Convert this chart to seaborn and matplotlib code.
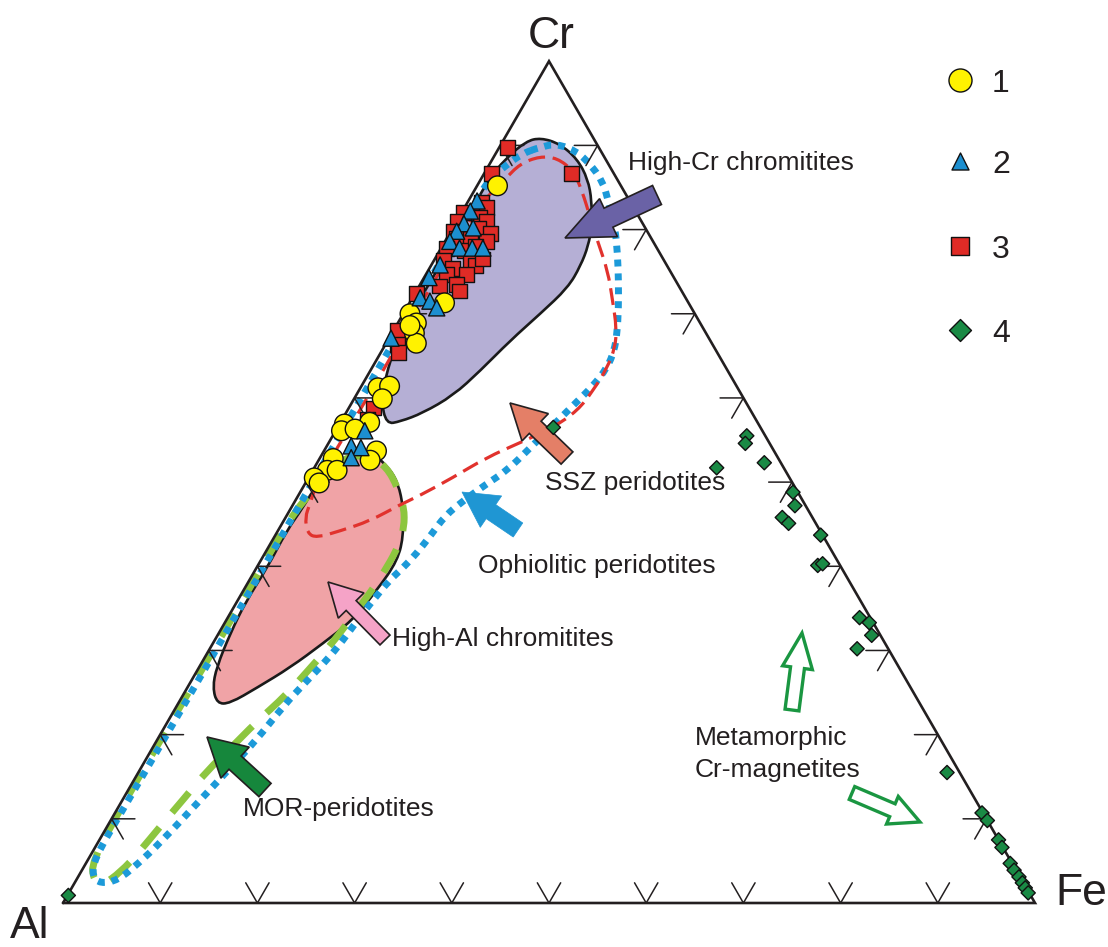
import numpy as np
import pandas as pd
import matplotlib
matplotlib.use("Agg")
import matplotlib.pyplot as plt
import seaborn as sns
from matplotlib.path import Path
from matplotlib.patches import PathPatch, FancyArrow

sns.set_style('white')
plt.rcParams['font.family'] = ['Liberation Sans', 'DejaVu Sans']

# spinel compositions, Cr and Fe3+ in % (Al = 100 - Cr - Fe)
yellow_cr = [85.2, 71.3, 70.0, 68.9, 67.7, 66.5, 68.6, 61.2, 61.4, 59.9, 56.9, 56.1, 57.1, 56.3, 52.8, 51.4, 51.4, 50.5, 49.9, 53.7, 52.6]
yellow_fe = [2.1, 3.6, 0.7, 1.9, 2.3, 3.1, 1.4, 1.8, 2.9, 2.9, 0.5, 0.6, 3.0, 1.9, 1.4, 1.5, 2.5, 0.6, 1.4, 5.4, 5.3]

blue_cr = [83.4, 82.2, 80.7, 79.8, 80.2, 78.6, 77.8, 77.8, 77.8, 75.8, 74.3, 71.9, 71.5, 70.7, 67.1, 56.1, 54.3, 54.1, 52.9]
blue_fe = [0.9, 0.8, 0.9, 0.6, 2.1, 0.5, 1.9, 3.2, 4.3, 0.9, 0.5, 0.8, 2.0, 3.1, 0.2, 3.0, 2.5, 3.6, 3.2]

red_cr = [89.7, 86.7, 86.7, 83.2, 82.6, 81.4, 82.0, 81.0, 81.0, 80.1, 79.5, 79.8, 79.0, 79.0, 78.6, 77.8, 77.5, 76.3, 75.4, 76.3,
          75.7, 74.7, 74.7, 73.5, 73.3, 72.7, 72.4, 68.0, 66.4, 65.4, 58.8, 57.5, 76.5, 78.0]
red_fe = [0.9, 0.7, 9.0, 1.5, 2.3, 2.2, 0.2, 0.1, 3.1, 2.7, 4.2, 0.3, 1.0, 2.4, 4.3, 0.6, 2.5, 1.0, 2.4, 3.8,
          4.6, 4.2, 2.1, 3.7, 2.1, 4.4, 0.2, 0.4, 1.2, 1.8, 2.5, 2.6, 4.9, 3.4]

green_cr = [55.5, 54.6, 52.3, 51.7, 48.8, 47.2, 45.8, 45.1, 43.7, 40.1, 40.3, 33.9, 33.3, 31.8, 30.2, 15.5, 10.7, 9.8,
            7.5, 6.6, 4.7, 3.9, 3.1, 2.4, 1.8, 1.2, 56.5, 0.9]
green_fe = [42.6, 42.9, 46.0, 41.4, 50.7, 51.7, 51.1, 52.1, 56.1, 57.6, 58.0, 65.0, 66.3, 67.3, 66.6, 83.2, 89.2, 90.2,
            92.5, 93.3, 95.1, 95.9, 96.8, 97.5, 98.1, 98.7, 22.2, 0.1]

# field outlines (Cr %, Fe %)
highcr_cr = [90.5, 90.9, 90.2, 88.4, 86.0, 83.4, 80.4, 78.1, 75.7, 73.1, 70.0, 66.8, 63.2, 60.3, 58.2, 57.2, 56.9,
             59.7, 62.6, 66.2, 69.8, 73.3, 77.5, 81.6, 85.8, 88.4]
highcr_fe = [2.4, 3.7, 6.0, 8.7, 11.0, 12.7, 14.2, 15.0, 15.4, 15.4, 14.1, 12.6, 11.3, 10.0, 7.9, 6.1, 4.8,
             2.9, 1.9, 1.1, 0.8, 0.9, 0.9, 0.9, 0.8, 1.3]

highal_cr = [49.8, 47.0, 43.9, 40.7, 37.1, 33.6, 30.8, 28.0, 25.6, 23.7, 23.7, 25.6, 28.0, 32.0, 35.9, 39.9, 44.2,
             47.0, 49.0, 51.4, 52.9, 53.4, 51.7]
highal_fe = [9.6, 11.5, 13.1, 14.1, 13.7, 13.0, 11.3, 9.4, 7.2, 5.3, 4.0, 2.6, 1.8, 1.2, 0.9, 1.1, 0.9,
             1.2, 1.2, 1.8, 3.0, 5.2, 7.7]

mor_cr = [53.1, 53.1, 51.8, 49.3, 47.0, 44.6, 42.5, 39.9, 37.1, 33.6, 30.6, 27.6, 24.7, 21.4, 18.5, 15.8, 12.2, 9.3,
          6.0, 3.7, 2.1, 2.7, 4.9, 12.0, 25.0, 37.0, 46.0, 49.0, 51.6]
mor_fe = [2.9, 5.0, 7.4, 9.8, 11.6, 12.8, 13.3, 13.4, 13.2, 12.7, 12.2, 11.4, 10.6, 9.1, 8.1, 7.0, 6.2, 5.5,
          4.8, 4.1, 3.0, 1.8, 0.5, 0.3, 0.4, 0.5, 0.5, 1.2, 1.7]

oph_cr = [89.8, 90.2, 89.3, 87.8, 85.8, 83.4, 80.2, 77.1, 73.9, 70.7, 67.6, 65.6, 63.6, 61.4, 59.3, 56.9, 54.0, 51.4,
          49.8, 47.8, 46.0, 43.7, 41.5, 39.9, 38.3, 35.9, 33.6, 31.2, 28.8, 26.1, 23.5, 19.3, 16.1, 11.9, 7.1, 4.7,
          2.7, 2.3, 3.2, 5.3, 10.7, 24.0, 36.0, 48.0, 60.0, 72.0, 84.0, 86.0, 87.5, 89.0]
oph_fe = [4.2, 5.7, 8.2, 10.3, 12.6, 14.4, 16.7, 18.5, 20.2, 21.8, 23.2, 23.9, 24.2, 23.8, 23.0, 22.1, 21.0, 20.0,
          18.7, 17.3, 16.3, 16.0, 15.6, 15.1, 14.4, 13.9, 13.5, 13.2, 12.7, 11.8, 11.0, 10.2, 9.2, 7.9, 6.4, 5.4,
          4.3, 2.7, 1.4, 0.6, 0.6, 0.7, 0.7, 0.7, 0.7, 0.7, 0.8, 0.9, 1.7, 2.7]

ssz_cr = [86.0, 87.8, 88.7, 88.5, 87.0, 84.6, 81.6, 78.6, 75.1, 71.5, 68.3, 66.0, 63.6, 60.9, 58.5, 56.5, 54.7, 52.9,
          50.5, 48.4, 47.3, 45.4, 44.2, 43.4, 43.9, 45.8, 47.4, 50.2, 54.9, 59.7, 65.6, 71.5, 77.5, 82.8]
ssz_fe = [2.5, 3.1, 4.7, 6.6, 9.0, 11.1, 13.4, 15.7, 18.5, 20.8, 22.8, 23.8, 24.2, 24.1, 23.7, 22.2, 19.7, 17.1,
          14.8, 12.5, 11.0, 8.9, 6.4, 4.4, 3.2, 2.0, 1.7, 1.1, 1.2, 1.3, 1.3, 1.2, 1.3, 1.3]

legend_labels = ['1', '2', '3', '4']

H = np.sqrt(3) / 2
DARK = '#231f20'


def tern(cr, fe):
    cr = np.asarray(cr) / 100.0
    fe = np.asarray(fe) / 100.0
    return fe + cr / 2, cr * H


def px(xp, yp):
    # layout helper: picture position -> axes units (side of triangle = 1)
    return (xp - 63) / 972.0, (903 - yp) / 972.0


def smooth_closed(cr, fe):
    x, y = tern(cr, fe)
    pts = np.column_stack([x, y])
    mids = (pts + np.roll(pts, -1, axis=0)) / 2
    verts = [mids[-1]]
    codes = [Path.MOVETO]
    for i in range(len(pts)):
        verts += [pts[i], mids[i]]
        codes += [Path.CURVE3, Path.CURVE3]
    return Path(verts, codes)


fig = plt.figure(figsize=(11.08, 9.47), dpi=100)
ax = fig.add_axes([0, 0, 1, 1])
ax.set_xlim(-63 / 972, 1045 / 972)
ax.set_ylim(-44 / 972, 903 / 972)
ax.axis('off')

# fields
ax.add_patch(PathPatch(smooth_closed(highcr_cr, highcr_fe), facecolor='#b5afd5', edgecolor='#1a1a1a', lw=1.9, zorder=1))
ax.add_patch(PathPatch(smooth_closed(highal_cr, highal_fe), facecolor='#f0a3a6', edgecolor='#1a1a1a', lw=1.9, zorder=1))
ax.add_patch(PathPatch(smooth_closed(mor_cr, mor_fe), fill=False, edgecolor='#8dc63f', lw=5.0,
                       linestyle=(0, (3.8, 2.8)), capstyle='butt', zorder=2))
ax.add_patch(PathPatch(smooth_closed(oph_cr, oph_fe), fill=False, edgecolor='#1c9ad9', lw=5.0,
                       linestyle=(0, (1, 1)), capstyle='butt', zorder=2.2))
ax.add_patch(PathPatch(smooth_closed(ssz_cr, ssz_fe), fill=False, edgecolor='#e1322d', lw=2.3,
                       linestyle=(0, (5.3, 2.4)), capstyle='butt', zorder=2.4))

# triangle frame and ticks
ax.plot([0, 1, 0.5, 0], [0, 0, H, 0], color=DARK, lw=1.9, zorder=3, solid_joinstyle='miter')
L = 0.024
for t in np.arange(1, 10) / 10:
    ax.plot([t - L / 2, t, t + L / 2], [L * H, 0, L * H], color=DARK, lw=1.1, zorder=3)
    x0, y0 = 1 - t / 2, t * H
    ax.plot([x0 - L, x0, x0 - L / 2], [y0, y0, y0 - L * H], color=DARK, lw=1.1, zorder=3)
    x0 = t / 2
    ax.plot([x0 + L, x0, x0 + L / 2], [y0, y0, y0 - L * H], color=DARK, lw=1.1, zorder=3)

# arrows: (tail, tip, shaft, head width, head length, face, edge, lw)
arrows = [
    (px(657, 195), px(565, 238), 21, 42, 48, '#6a62a6', DARK, 1.2),
    (px(567, 458), px(510, 403), 17, 38, 35, '#e47f67', DARK, 1.2),
    (px(518, 530), px(462, 492), 17, 38, 35, '#1f96d3', '#1f96d3', 0.5),
    (px(385, 640), px(328, 582), 14, 36, 33, '#f5a3c7', DARK, 1.2),
    (px(265, 790), px(207, 737), 18, 42, 38, '#16873c', DARK, 1.2),
    (px(792, 710), px(802, 633), 14, 30, 35, 'white', '#1a9641', 2.4),
    (px(852, 793), px(920, 822), 14, 30, 30, 'white', '#1a9641', 2.4),
]
for (x0, y0), (x1, y1), w, hw, hl, fc, ec, lw in arrows:
    ax.add_patch(FancyArrow(x0, y0, x1 - x0, y1 - y0, width=w / 972, head_width=hw / 972,
                            head_length=hl / 972, length_includes_head=True,
                            facecolor=fc, edgecolor=ec, lw=lw, zorder=4))

# data points
pts = pd.concat([
    pd.DataFrame({'Cr': red_cr, 'Fe': red_fe, 'group': '3'}),
    pd.DataFrame({'Cr': yellow_cr, 'Fe': yellow_fe, 'group': '1'}),
    pd.DataFrame({'Cr': blue_cr, 'Fe': blue_fe, 'group': '2'}),
    pd.DataFrame({'Cr': green_cr, 'Fe': green_fe, 'group': '4'}),
], ignore_index=True)
pts['x'], pts['y'] = tern(pts['Cr'], pts['Fe'])

colors = {'1': '#fff200', '2': '#1c8fd0', '3': '#e02b26', '4': '#1a8a45'}
markers = {'1': 'o', '2': '^', '3': 's', '4': 'D'}
sizes = {'1': 200, '2': 135, '3': 115, '4': 52}
sns.scatterplot(data=pts, x='x', y='y', hue='group', style='group', size='group',
                palette=colors, markers=markers, sizes=sizes, edgecolor='#111111',
                linewidth=1.0, legend=False, ax=ax, zorder=6)

# legend
leg_y = [80, 161, 246, 330]
leg_s = {'1': 275, '2': 150, '3': 150, '4': 125}
for lab, yy in zip(legend_labels, leg_y):
    mx, my = px(960, yy)
    ax.scatter([mx], [my], s=leg_s[lab], marker=markers[lab], color=colors[lab],
               edgecolor='#111111', linewidth=1.0, zorder=6, clip_on=False)
    tx, ty = px(992, yy + 12)
    ax.text(tx, ty, lab, fontsize=23, color=DARK, ha='left', va='baseline')

# vertex labels
for lab, xp, yp in [('Cr', 528, 48), ('Al', 10, 938), ('Fe', 1055, 905)]:
    tx, ty = px(xp, yp)
    ax.text(tx, ty, lab, fontsize=32, color=DARK, ha='left', va='baseline')

# field labels
for lab, xp, yp in [('High-Cr chromitites', 628, 170), ('SSZ peridotites', 545, 490),
                    ('Ophiolitic peridotites', 478, 573), ('High-Al chromitites', 392, 646),
                    ('MOR-peridotites', 243, 816), ('Metamorphic', 695, 745),
                    ('Cr-magnetites', 695, 777)]:
    tx, ty = px(xp, yp)
    ax.text(tx, ty, lab, fontsize=19, color=DARK, ha='left', va='baseline', zorder=7)

fig.savefig('out.png', dpi=100)
